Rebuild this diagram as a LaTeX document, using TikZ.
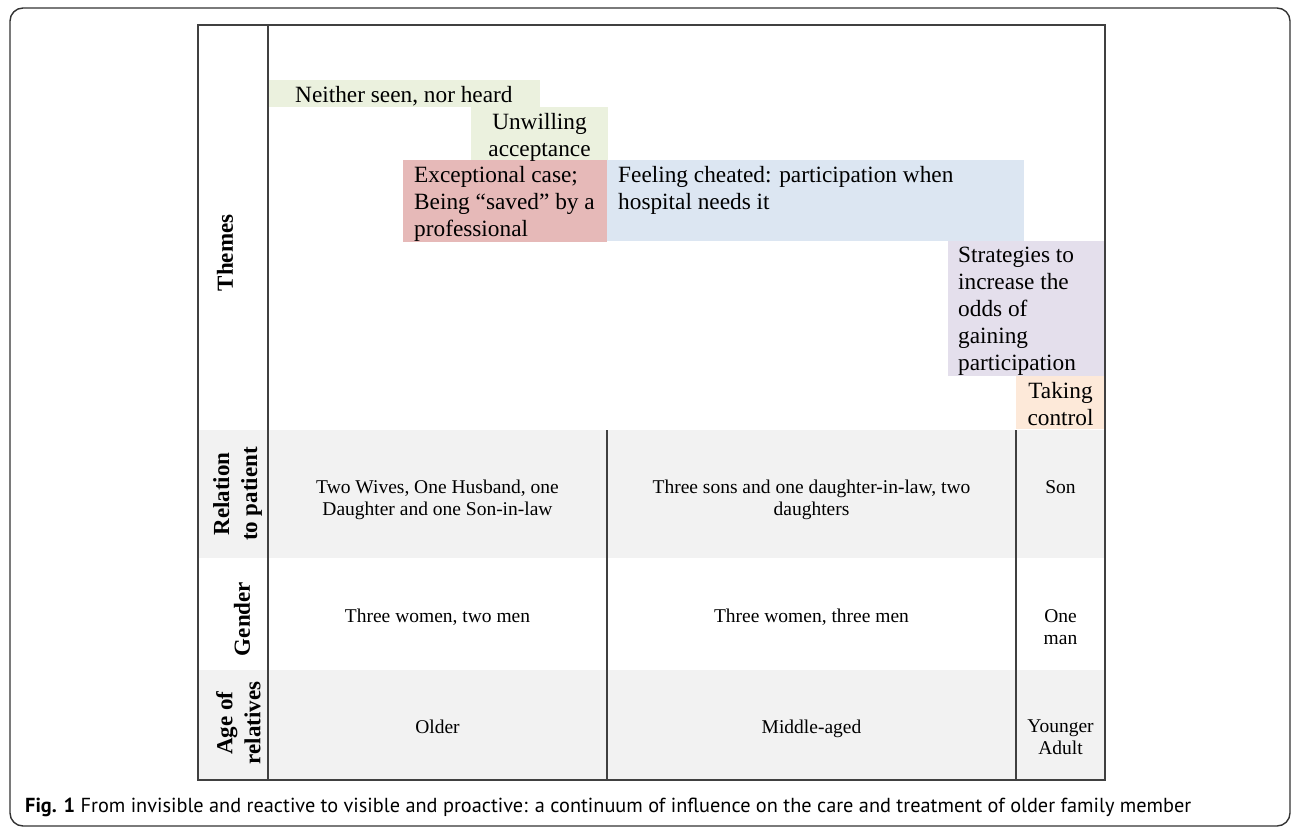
\documentclass[tikz,border=0pt]{standalone}
\usepackage{fontspec}
\setmainfont{Liberation Serif}
\newfontfamily\capfont{PT Sans}
\usepackage{xcolor}
\usetikzlibrary{positioning}

\definecolor{themegreen}{HTML}{EBF1DE}
\definecolor{themered}{HTML}{E6B9B8}
\definecolor{themeblue}{HTML}{DCE6F2}
\definecolor{themepurple}{HTML}{E4DFEC}
\definecolor{themeorange}{HTML}{FDE9D9}
\definecolor{rowgray}{HTML}{F2F2F2}
\definecolor{gridline}{HTML}{404040}

\begin{document}
\begin{tikzpicture}[
    x=1pt, y=-1pt,
    themetext/.style={inner sep=0pt, align=left, anchor=north west, font=\fontsize{23.3}{27}\selectfont},
    rowlabel/.style={rotate=90, align=center, inner sep=0pt, font=\bfseries\fontsize{23}{28}\selectfont},
    cell/.style={inner sep=0pt, align=center, anchor=north, font=\fontsize{19.5}{22}\selectfont},
    grid/.style={draw=gridline, line width=1.1pt}
]
\useasboundingbox (0,0) rectangle (1292,827);

% Outer frame
\draw[rounded corners=13pt, line width=1.4pt, black!80] (10,8) rectangle (1290,826);

% Row shading
\fill[rowgray] (198,430) rectangle (1105,558);
\fill[rowgray] (198,670) rectangle (1105,780);

% Theme boxes
\fill[themegreen] (268,80) rectangle (540,107);
\fill[themegreen] (471,107) rectangle (608,160);
\fill[themered] (403,160) rectangle (607,242);
\fill[themeblue] (607,160) rectangle (1024,241);
\fill[themepurple] (948,241) rectangle (1105,376);
\fill[themeorange] (1016,376) rectangle (1105,429);

\node[themetext] (neither) at (295,86) {Neither seen, nor heard};
\node[themetext, align=center, anchor=north] (unwilling) at (539.5,113) {Unwilling\\acceptance};
\node[themetext] (exceptional) at (414,166) {Exceptional case;\\Being “saved” by a\\professional};
\node[themetext] (cheated) at (618,166) {Feeling cheated: participation when\\hospital needs it};
\node[themetext] (strategies) at (958,247) {Strategies to\\increase the\\odds of\\gaining\\participation};
\node[themetext, align=center, anchor=north] (control) at (1060.5,382) {Taking\\control};

% Table lines
\draw[grid] (198,25) rectangle (1105,780);
\draw[grid] (268,25) -- (268,780);
\foreach \x in {607,1016}
    \draw[grid] (\x,430) -- (\x,780);

% Row labels
\node[rowlabel] (themes) at (225,253) {Themes};
\node[rowlabel] (relation) at (237.5,494) {Relation\\to patient};
\node[rowlabel] (gender) at (242,619) {Gender};
\node[rowlabel] (age) at (238.5,723) {Age of\\relatives};

% Cells
\node[cell] (rel1) at (437.5,480) {Two Wives, One Husband, one\\Daughter and one Son-in-law};
\node[cell] (rel2) at (811.5,480) {Three sons and one daughter-in-law, two\\daughters};
\node[cell] (rel3) at (1060.5,480) {Son};
\node[cell] (gen1) at (437.5,609) {Three women, two men};
\node[cell] (gen2) at (811.5,609) {Three women, three men};
\node[cell] (gen3) at (1060.5,609) {One\\man};
\node[cell] (age1) at (437.5,720) {Older};
\node[cell] (age2) at (811.5,720) {Middle-aged};
\node[cell] (age3) at (1060.5,720) {Younger\\Adult};

% Caption
\node[anchor=base west, inner sep=0pt, font=\capfont\fontsize{20.3}{24}\selectfont] (caption) at (25,812)
    {\textbf{Fig. 1} From invisible and reactive to visible and proactive: a continuum of influence on the care and treatment of older family member};

\end{tikzpicture}
\end{document}
